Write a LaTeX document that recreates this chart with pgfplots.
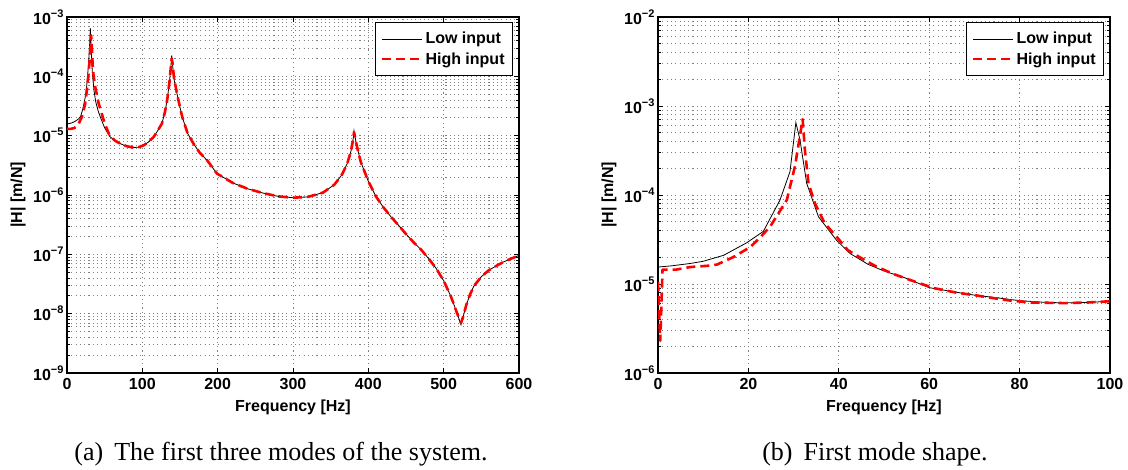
\documentclass[border=0pt]{standalone}
\usepackage{pgfplots}
\pgfplotsset{compat=1.18}
\usepackage{fontspec}
\setmainfont{Liberation Serif}
\setsansfont{Liberation Sans}
\newcommand\tp[1]{10\raisebox{7pt}{\fontsize{11}{11}\selectfont −#1}}
\tikzset{
  lowin/.style={black, line width=0.8pt},
  highin/.style={red, line width=2.6pt, dash pattern=on 9pt off 5pt, line join=round},
}
\pgfplotsset{legend image code/.code={\draw[#1] (0pt,0pt) -- (40pt,0pt);}}
\pgfplotsset{mystyle/.style={
  scale only axis, width=452pt, height=356pt,
  grid=both,
  major grid style={black!50, line width=0.7pt, dash pattern=on 1.1pt off 3.2pt},
  minor grid style={black!50, line width=0.7pt, dash pattern=on 1.1pt off 3.2pt},
  tick align=inside,
  major tick length=5pt, minor tick length=3pt,
  every tick/.style={black, line width=0.7pt},
  axis line style={black, line width=1.1pt},
  tick label style={font=\sffamily\bfseries\fontsize{16}{16}\selectfont},
  xticklabel style={yshift=-2pt},
  /pgf/number format/assume math mode=true,
  label style={font=\sffamily\bfseries\fontsize{16}{16}\selectfont},
  xlabel={Frequency [Hz]}, ylabel={|H| [m/N]},
  xlabel style={at={(axis description cs:0.5,-0.0955)}, anchor=center},
  ylabel style={at={(axis description cs:-0.1084,0.5)}, anchor=center},
  legend style={at={(1,1)}, anchor=north east, xshift=-6pt, yshift=-5pt,
    draw=black, line width=0.8pt, fill=white, inner xsep=6pt, inner ysep=8pt,
    row sep=3pt, cells={anchor=west},
    font=\sffamily\bfseries\fontsize{16}{16}\selectfont},
}}
\begin{document}
\begin{tikzpicture}
\begin{semilogyaxis}[mystyle, at={(0pt,0pt)}, anchor=south west,
  xmin=0, xmax=600, ymin=1e-9, ymax=1e-3,
  xtick={0,100,200,300,400,500,600},
  ytick={1e-9,1e-8,1e-7,1e-6,1e-5,1e-4,1e-3},
  yticklabels={\tp{9},\tp{8},\tp{7},\tp{6},\tp{5},\tp{4},\tp{3}},
  minor ytick={2e-9,3e-9,4e-9,5e-9,6e-9,7e-9,8e-9,9e-9,
    2e-8,3e-8,4e-8,5e-8,6e-8,7e-8,8e-8,9e-8,
    2e-7,3e-7,4e-7,5e-7,6e-7,7e-7,8e-7,9e-7,
    2e-6,3e-6,4e-6,5e-6,6e-6,7e-6,8e-6,9e-6,
    2e-5,3e-5,4e-5,5e-5,6e-5,7e-5,8e-5,9e-5,
    2e-4,3e-4,4e-4,5e-4,6e-4,7e-4,8e-4,9e-4},
]
\addplot[lowin, no marks] coordinates {
(0,1.58e-5) (5,1.62e-5) (10,1.72e-5) (15,1.9e-5) (18,2.1e-5) (21,2.8e-5) (24,4.3e-5)
(26,6.5e-5) (28,1.3e-4) (29,2.0e-4) (30,3.3e-4) (31,6.4e-4) (32,3.0e-4) (33,1.6e-4)
(34,1.0e-4) (36,5.6e-5) (38,3.8e-5) (41,2.7e-5) (44,2.1e-5) (50,1.35e-5) (57,9.6e-6)
(64,8.2e-6) (71,7.3e-6) (80,6.6e-6) (88,6.3e-6) (95,6.4e-6) (102,6.9e-6) (108,7.8e-6)
(115,9.5e-6) (121,1.25e-5) (126,1.6e-5) (130,2.5e-5) (133,4.0e-5) (136,8.0e-5)
(138,1.5e-4) (139,2.26e-4) (140,1.6e-4) (142,9.0e-5) (146,5.1e-5) (150,3.0e-5)
(153,2.07e-5) (160,1.1e-5) (168,7.3e-6) (176,5.2e-6) (186,3.85e-6) (199,2.3e-6)
(220,1.6e-6) (240,1.27e-6) (260,1.08e-6) (280,9.5e-7) (300,9.0e-7) (320,9.3e-7)
(340,1.1e-6) (355,1.5e-6) (365,2.2e-6) (372,3.4e-6) (377,5.5e-6) (380,9.0e-6)
(381,1.2e-5) (382,1.0e-5) (385,6.5e-6) (390,3.6e-6) (400,1.7e-6) (410,9.5e-7)
(420,6.2e-7) (430,4.3e-7) (440,3.1e-7) (450,2.2e-7) (460,1.6e-7) (470,1.2e-7)
(480,8.5e-8) (490,5.8e-8) (500,3.6e-8) (510,1.9e-8) (518,1.0e-8) (523,6.5e-9)
(526,9.0e-9) (530,1.4e-8) (535,2.1e-8) (540,2.9e-8) (550,4.2e-8) (560,5.4e-8)
(570,6.4e-8) (580,7.5e-8) (590,8.5e-8) (600,9.6e-8)
};
\addlegendentry{Low input}
\addplot[highin, no marks] coordinates {
(0,1.3e-5) (5,1.3e-5) (10,1.35e-5) (15,1.55e-5) (20,2.1e-5) (24,3.4e-5) (26.5,6.0e-5)
(28,9.0e-5) (30,1.8e-4) (31,3.0e-4) (32,4.9e-4) (33,3.0e-4) (34,1.6e-4) (35,1.1e-4)
(37.6,6.5e-5) (42,3.5e-5) (46,2.4e-5) (50,1.6e-5) (57,9.8e-6)
(64,8.2e-6) (71,7.3e-6) (80,6.6e-6) (88,6.3e-6) (95,6.4e-6) (102,6.9e-6) (108,7.8e-6)
(115,9.5e-6) (121,1.25e-5) (126,1.6e-5) (130,2.5e-5) (133,4.0e-5) (136,8.0e-5)
(138,1.5e-4) (139,2.0e-4) (140,1.7e-4) (142,9.5e-5) (146,5.1e-5) (150,3.0e-5)
(153,2.07e-5) (160,1.1e-5) (168,7.3e-6) (176,5.2e-6) (186,3.85e-6) (199,2.3e-6)
(220,1.6e-6) (240,1.27e-6) (260,1.08e-6) (280,9.5e-7) (300,9.0e-7) (320,9.3e-7)
(340,1.1e-6) (355,1.5e-6) (365,2.2e-6) (372,3.4e-6) (377,5.5e-6) (380,9.0e-6)
(381,1.15e-5) (382,1.0e-5) (385,6.5e-6) (390,3.6e-6) (400,1.7e-6) (410,9.5e-7)
(420,6.2e-7) (430,4.3e-7) (440,3.1e-7) (450,2.2e-7) (460,1.6e-7) (470,1.2e-7)
(480,8.5e-8) (490,5.8e-8) (500,3.6e-8) (510,1.9e-8) (518,1.0e-8) (523,7.0e-9)
(526,9.0e-9) (530,1.4e-8) (535,2.1e-8) (540,2.9e-8) (550,4.2e-8) (560,5.4e-8)
(570,6.4e-8) (580,7.5e-8) (590,8.5e-8) (600,9.6e-8)
};
\addlegendentry{High input}
\end{semilogyaxis}
\begin{semilogyaxis}[mystyle, at={(591pt,0pt)}, anchor=south west,
  xmin=0, xmax=100, ymin=1e-6, ymax=1e-2,
  xtick={0,20,40,60,80,100},
  ytick={1e-6,1e-5,1e-4,1e-3,1e-2},
  yticklabels={\tp{6},\tp{5},\tp{4},\tp{3},\tp{2}},
  minor ytick={2e-6,3e-6,4e-6,5e-6,6e-6,7e-6,8e-6,9e-6,
    2e-5,3e-5,4e-5,5e-5,6e-5,7e-5,8e-5,9e-5,
    2e-4,3e-4,4e-4,5e-4,6e-4,7e-4,8e-4,9e-4,
    2e-3,3e-3,4e-3,5e-3,6e-3,7e-3,8e-3,9e-3},
]
\addplot[lowin, no marks] coordinates {
(0,1.55e-5) (3,1.6e-5) (7.1,1.7e-5) (10,1.8e-5) (14.5,2.1e-5) (19.6,2.9e-5) (23.3,3.9e-5)
(27.0,8.8e-5) (29.2,1.83e-4) (30.5,6.5e-4) (31.4,4.2e-4) (32.9,1.35e-4)
(35.5,5.7e-5) (39.5,3.1e-5) (42.5,2.2e-5) (46.5,1.66e-5) (50,1.4e-5)
(54.5,1.18e-5) (60,9.1e-6) (66.5,8.0e-6) (70,7.5e-6) (75,7.0e-6) (80,6.5e-6)
(85,6.25e-6) (89,6.15e-6) (95,6.2e-6) (100,6.4e-6)
};
\addlegendentry{Low input}
\addplot[highin, no marks] coordinates {
(0,1.05e-5) (0.5,2.3e-6) (1,1.45e-5) (4,1.45e-5) (7.1,1.55e-5) (10.8,1.6e-5) (13,1.65e-5)
(16.6,2.0e-5) (18,2.2e-5) (20.4,2.6e-5) (22.5,3.3e-5) (24.8,4.4e-5) (28.5,8.8e-5)
(30.3,2.1e-4) (32.0,7.1e-4) (32.5,3.2e-4) (33.3,1.35e-4) (34.7,8.1e-5) (36.9,4.8e-5)
(39.5,3.4e-5) (42,2.4e-5) (45,1.95e-5) (48,1.6e-5) (52,1.3e-5) (56,1.1e-5) (61,9.0e-6)
(66,8.0e-6) (70,7.5e-6) (74.5,6.9e-6) (78,6.5e-6) (82.5,6.2e-6) (90,6.1e-6) (95,6.2e-6)
(100,6.4e-6)
};
\addlegendentry{High input}
\end{semilogyaxis}
\node[anchor=base, font=\fontsize{26}{26}\selectfont] at (214pt,-88pt) {(a)\hspace{11pt}The first three modes of the system.};
\node[anchor=base, font=\fontsize{26}{26}\selectfont] at (808pt,-88pt) {(b)\hspace{11pt}First mode shape.};
\pgfresetboundingbox
\path[use as bounding box] (-67pt,-97pt) rectangle (1061pt,373pt);
\end{tikzpicture}
\end{document}
